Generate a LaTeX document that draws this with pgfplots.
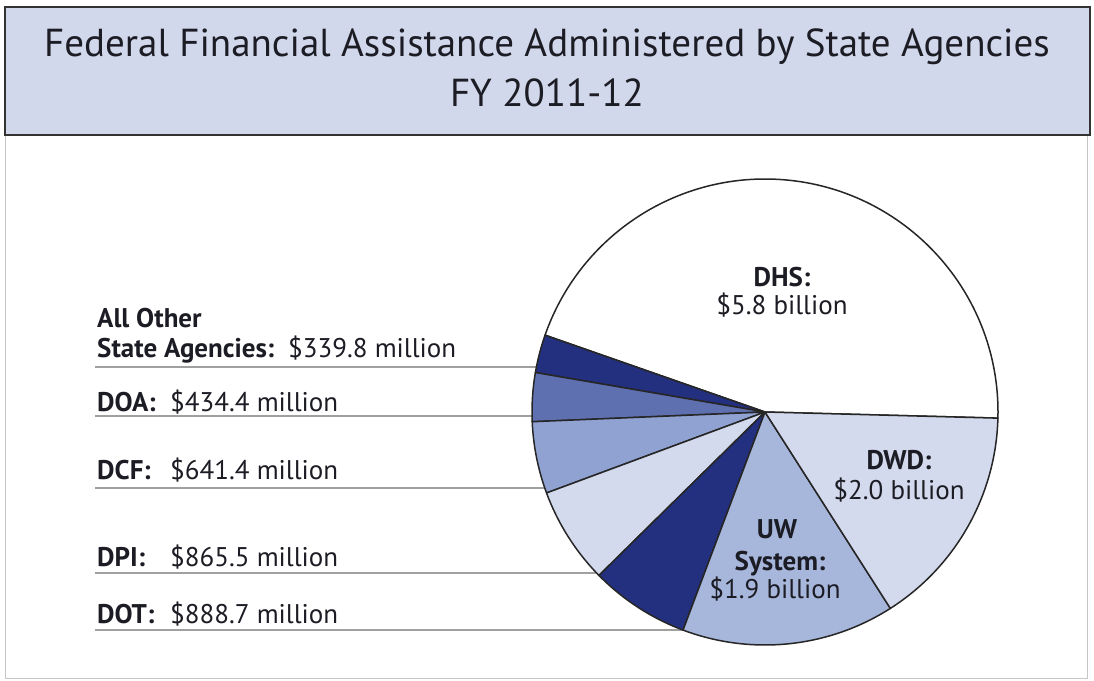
\documentclass[border=0pt]{standalone}
\usepackage{pgfplots}
\usepackage{pgfplotstable}
\usepackage{fontspec}
\setmainfont{PT Sans}
\pgfplotsset{compat=1.18}

\definecolor{titlebg}{HTML}{D2D8EC}
\definecolor{linegray}{HTML}{A0A0A0}
\definecolor{txt}{HTML}{1C1C24}
\definecolor{c0}{HTML}{FFFFFF}
\definecolor{c1}{HTML}{22307F}
\definecolor{c2}{HTML}{5E70B0}
\definecolor{c3}{HTML}{8FA2D2}
\definecolor{c4}{HTML}{D4DAEE}
\definecolor{c5}{HTML}{22307F}
\definecolor{c6}{HTML}{A7B6DB}
\definecolor{c7}{HTML}{D4DAEE}

% values in millions, counterclockwise from the DHS/DWD edge
\pgfplotstableread{
name  value
DHS   5800
Other 339.8
DOA   434.4
DCF   641.4
DPI   865.5
DOT   888.7
UW    1900
DWD   2000
}\piedata

\begin{document}
\begin{tikzpicture}
% cumulative angles
\def\total{0}
\pgfplotsforeachungrouped \i in {0,...,7}{%
  \pgfplotstablegetelem{\i}{value}\of\piedata
  \pgfmathsetmacro\total{\total+\pgfplotsretval}%
  \xdef\total{\total}%
}
\def\cumangle{-1.5}
\pgfplotsforeachungrouped \i in {0,...,7}{%
  \pgfplotstablegetelem{\i}{value}\of\piedata
  \pgfmathsetmacro\endang{\cumangle+(\pgfplotsretval/\total)*360}%
  \expandafter\xdef\csname sa\i\endcsname{\cumangle}%
  \expandafter\xdef\csname ea\i\endcsname{\endang}%
  \xdef\cumangle{\endang}%
}
\begin{axis}[
    width=1094pt, height=680pt, scale only axis,
    xmin=0, xmax=1094, ymin=0, ymax=680,
    hide axis, clip=false
]
  \path (axis cs:0,0) rectangle (axis cs:1094,680);
  % outer frame and title box
  \draw[gray!45, line width=1pt] (axis cs:5,545) -- (axis cs:5,2) -- (axis cs:1087,2) -- (axis cs:1087,545);
  \filldraw[fill=titlebg, draw=black!80, line width=1.5pt] (axis cs:5,673) rectangle (axis cs:1090,545);
  \node[text=txt, font=\fontsize{39}{46}\selectfont] at (axis cs:547,633) {Federal Financial Assistance Administered by State Agencies};
  \node[text=txt, font=\fontsize{39}{46}\selectfont] at (axis cs:547,587) {FY 2011-12};

  % leader lines
  \draw[linegray, line width=2pt] (axis cs:95,313) -- (axis cs:700,313);
  \draw[linegray, line width=2pt] (axis cs:95,264) -- (axis cs:700,264);
  \draw[linegray, line width=2pt] (axis cs:95,192) -- (axis cs:700,192);
  \draw[linegray, line width=2pt] (axis cs:95,107) -- (axis cs:700,107);
  \draw[linegray, line width=2pt] (axis cs:95,50) -- (axis cs:720,50);

  % wedges
  \pgfplotsinvokeforeach{0,...,7}{
    \filldraw[fill=c#1, draw=black!85, line width=1.5pt, line join=round]
      (axis cs:765,268) -- ++(\csname sa#1\endcsname:233pt)
      arc[start angle=\csname sa#1\endcsname, end angle=\csname ea#1\endcsname, radius=233pt] -- cycle;
  }

  % wedge labels
  \begin{scope}[every node/.style={text=txt, font=\fontsize{27}{32}\selectfont, inner sep=0pt}]
  \node[anchor=base] at (axis cs:782,393) {\bfseries DHS:};
  \node[anchor=base] at (axis cs:782,365) {\$5.8 billion};
  \node[anchor=base] at (axis cs:899,210) {\bfseries DWD:};
  \node[anchor=base] at (axis cs:899,180) {\$2.0 billion};
  \node[anchor=base] at (axis cs:777,142) {\bfseries UW};
  \node[anchor=base] at (axis cs:780,110) {\bfseries System:};
  \node[anchor=base] at (axis cs:775,82) {\$1.9 billion};

  \node[anchor=base west] at (axis cs:97,352) {\bfseries All Other};
  \node[anchor=base west] at (axis cs:97,322) {\bfseries State Agencies:};
  \node[anchor=base west] at (axis cs:288,322) {\$339.8 million};
  \node[anchor=base west] at (axis cs:97,268) {\bfseries DOA:};
  \node[anchor=base west] at (axis cs:170,268) {\$434.4 million};
  \node[anchor=base west] at (axis cs:97,200) {\bfseries DCF:};
  \node[anchor=base west] at (axis cs:170,200) {\$641.4 million};
  \node[anchor=base west] at (axis cs:97,114) {\bfseries DPI:};
  \node[anchor=base west] at (axis cs:170,114) {\$865.5 million};
  \node[anchor=base west] at (axis cs:97,57) {\bfseries DOT:};
  \node[anchor=base west] at (axis cs:170,57) {\$888.7 million};
  \end{scope}
\end{axis}
\end{tikzpicture}
\end{document}
